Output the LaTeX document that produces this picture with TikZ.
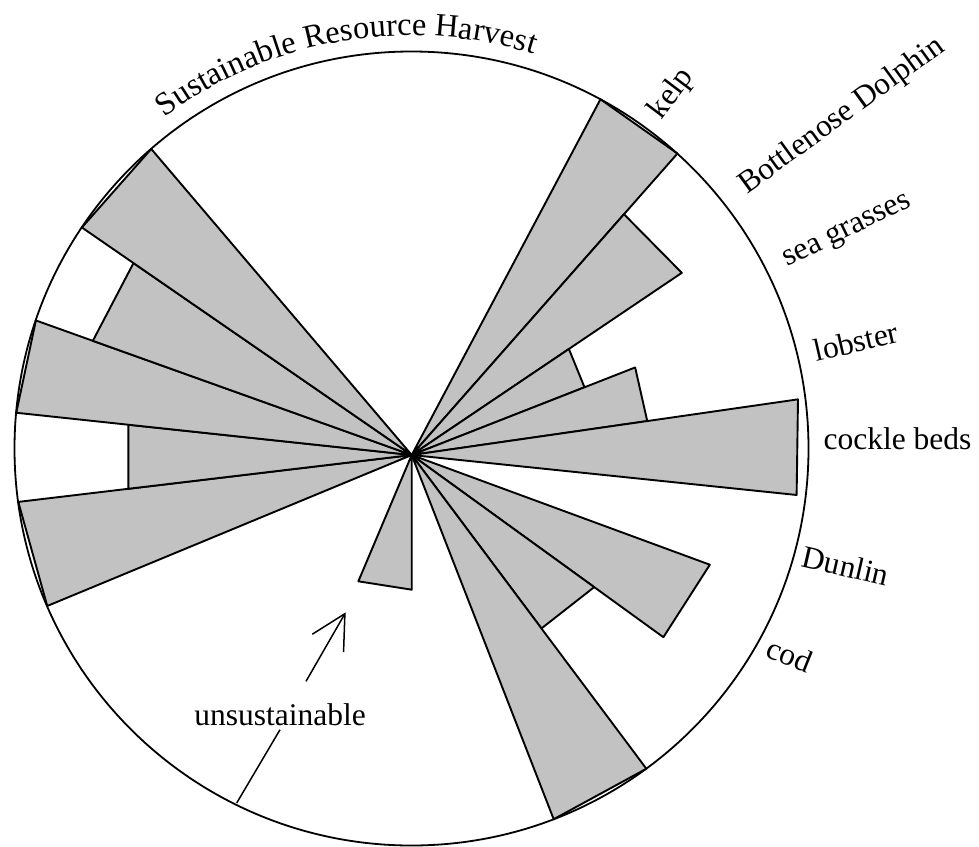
\documentclass[tikz,border=0pt]{standalone}
\usepackage{fontspec}
\setmainfont{Liberation Serif}
\usetikzlibrary{arrows.meta,decorations.text,calc}
\begin{document}
\begin{tikzpicture}[x=1pt,y=1pt,
  wedge/.style={fill=black!24, draw=black, line width=1.9pt, line join=round},
  rim/.style={draw=black, line width=1.8pt},
  lbl/.style={inner sep=0pt, font=\fontsize{31.5}{36}\selectfont},
  leader/.style={line width=1.5pt}
]
\useasboundingbox (0,0) rectangle (979,-846);
\coordinate (C) at (411.5,-448.5);
\coordinate (H) at (411.7,-455);

% sectors, drawn from the hub
\begin{scope}[shift={(H)}]
  \filldraw[wedge] (0,0) -- (62.05:402.7) -- (48.6:401.9) -- cycle;   % kelp
  \filldraw[wedge] (0,0) -- (48.6:321)    -- (34.0:325.8) -- cycle;   % sea grasses
  \filldraw[wedge] (0,0) -- (34.0:189.6)  -- (21.4:185.6) -- cycle;   % lobster
  \filldraw[wedge] (0,0) -- (21.4:240)    -- (8.2:238)    -- cycle;
  \filldraw[wedge] (0,0) -- (8.2:390.3)   -- (-5.93:387)  -- cycle;   % cockle beds
  \filldraw[wedge] (0,0) -- (-20.2:317.7) -- (-35.9:310.7) -- cycle;  % Dunlin
  \filldraw[wedge] (0,0) -- (-35.9:225.3) -- (-53.2:216.6) -- cycle;
  \filldraw[wedge] (0,0) -- (-53.2:391.8) -- (-68.7:390.9) -- cycle;
  \filldraw[wedge] (0,0) -- (-90:134.7)   -- (-112.9:137.1) -- cycle; % unsustainable
  \filldraw[wedge] (0,0) -- (-157.5:394.5) -- (-173.2:396.2) -- cycle;
  \filldraw[wedge] (0,0) -- (-173.2:285.4) -- (173.9:285.0) -- cycle;
  \filldraw[wedge] (0,0) -- (173.9:397.7) -- (160.3:399.2) -- cycle;
  \filldraw[wedge] (0,0) -- (160.3:338.7) -- (145.4:338.0) -- cycle;
  \filldraw[wedge] (0,0) -- (145.4:400.7) -- (130.4:401.9) -- cycle;
\end{scope}

\draw[rim] (C) circle[radius=397];

% curved title
\path[decorate, decoration={text along path, text align=center,
  text={|\fontsize{32.5}{38}\selectfont|Sustainable Resource Harvest}}]
  ($(C)+(135:413)$) arc[start angle=135, end angle=64.5, radius=413];

% labels
\node[lbl, rotate=53]  (kelp)    at (672,-94)      {kelp};
\node[lbl, rotate=36]  (dolphin) at (842,-116)     {Bottlenose Dolphin};
\node[lbl, rotate=26]  (grass)   at (848,-232)     {sea grasses};
\node[lbl, rotate=13]  (lobster) at (856,-341.5)   {lobster};
\node[lbl]             (cockle)  at (897.5,-438.5) {cockle beds};
\node[lbl, rotate=-13] (dunlin)  at (845.8,-565.7) {Dunlin};
\node[lbl, rotate=-22] (cod)     at (790,-655)     {cod};
\node[lbl]             (uns)     at (280,-715)     {unsustainable};

% leader and arrow
\coordinate (ua)    at (306,-681.3);
\coordinate (tip)   at (345.7,-612.3);
\coordinate (ub)    at (280,-729.7);
\coordinate (rimpt) at (236.7,-803);
\draw[leader, -{Straight Barb[length=34pt,width=36pt]}] (ua) -- (tip);
\draw[leader] (ub) -- (rimpt);
\end{tikzpicture}
\end{document}
